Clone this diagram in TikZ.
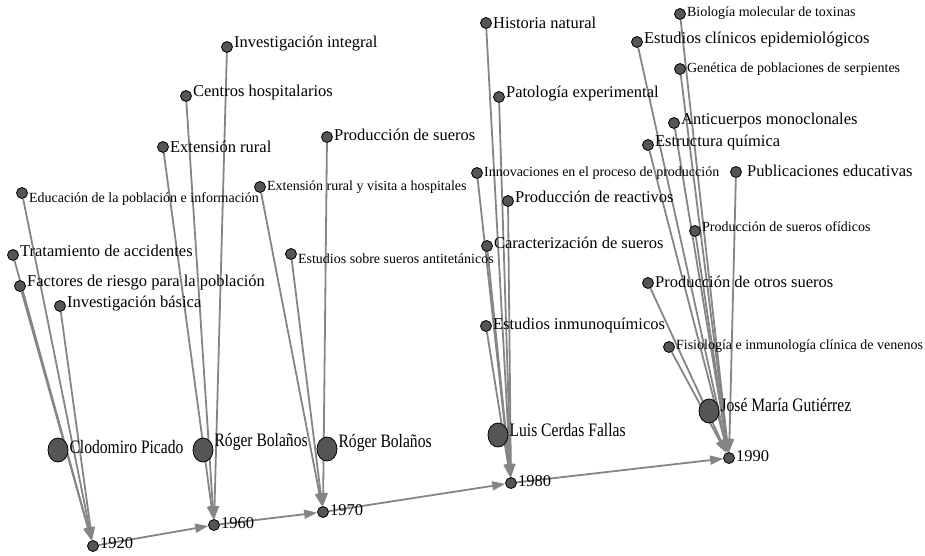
\documentclass[tikz,border=0pt]{standalone}
\usepackage{fontspec}
\setmainfont{Liberation Serif}
\newfontfamily\personfont{Liberation Serif}[FakeStretch=0.82]
\usepackage{tikz}
\usetikzlibrary{arrows.meta, shapes.geometric, backgrounds}
\definecolor{dotgray}{HTML}{555555}
\definecolor{linkgray}{HTML}{858585}
\tikzset{topic/.style={circle, draw=black, fill=dotgray, line width=0.8pt,
    minimum size=11pt, inner sep=0pt},
    person/.style={ellipse, draw=black, fill=dotgray, line width=0.8pt,
    minimum width=20pt, minimum height=24pt, inner sep=0pt},
    small/.style={font=\fontsize{14}{16}\selectfont, inner sep=1pt},
    mid/.style={font=\fontsize{16.5}{18}\selectfont, inner sep=1pt, yshift=2pt},
    big/.style={font=\personfont\fontsize{19}{21}\selectfont, inner sep=1pt, yshift=5pt},
    link/.style={draw=linkgray, line width=1.8pt, ->}}

\begin{document}
\begin{tikzpicture}[x=1pt, y=-1pt,
  >={Triangle[length=13pt, width=9pt]}
]
  \useasboundingbox (0,0) rectangle (925,555);

  % Years
  \node[topic, label={[mid,yshift=1pt]right:1920}] (y1920) at (93,546) {};
  \node[topic, label={[mid]right:1960}] (y1960) at (214,525) {};
  \node[topic, label={[mid]right:1970}] (y1970) at (323,512) {};
  \node[topic, label={[mid]right:1980}] (y1980) at (511,483) {};
  \node[topic, label={[mid]right:1990}] (y1990) at (729,458) {};

  % Persons
  \node[person, label={[big,yshift=-2pt]right:Clodomiro Picado}] (picado) at (58,450) {};
  \node[person, label={[big,yshift=3pt]right:Róger Bolaños}] (bolanos1) at (203,450) {};
  \node[person, label={[big,yshift=1pt]right:Róger Bolaños}] (bolanos2) at (327,449) {};
  \node[person, label={[big]right:Luis Cerdas Fallas}] (cerdas) at (498,435) {};
  \node[person, label={[big,yshift=1pt]right:José María Gutiérrez}] (gutierrez) at (709,411) {};

  % Topics 1920
  \node[topic, label={[small,yshift=-6pt]right:Educación de la población e información}] (edu) at (22,193) {};
  \node[topic, label={[mid,yshift=2pt]right:Tratamiento de accidentes}] (trat) at (13,255) {};
  \node[topic, label={[mid,yshift=1pt]right:Factores de riesgo para la población}] (fact) at (20,286) {};
  \node[topic, label={[mid]right:Investigación básica}] (invb) at (60,306) {};

  % Topics 1960
  \node[topic, label={[mid,yshift=1pt]right:Investigación integral}] (inti) at (227,47) {};
  \node[topic, label={[mid,yshift=1pt]right:Centros hospitalarios}] (cent) at (186,96) {};
  \node[topic, label={[mid,yshift=-2pt]right:Extensión rural}] (extr) at (163,147) {};

  % Topics 1970
  \node[topic, label={[mid]right:Producción de sueros}] (prod) at (327,137) {};
  \node[topic, label={[small]right:Extensión rural y visita a hospitales}] (extv) at (260,187) {};
  \node[topic, label={[small,yshift=-5pt]right:Estudios sobre sueros antitetánicos}] (anti) at (291,254) {};

  % Topics 1980
  \node[topic, label={[mid,yshift=-2pt]right:Historia natural}] (hist) at (486,23) {};
  \node[topic, label={[mid,yshift=1pt]right:Patología experimental}] (pato) at (499,97) {};
  \node[topic, label={[small]right:Innovaciones en el proceso de producción}] (inno) at (477,173) {};
  \node[topic, label={[mid,yshift=2pt]right:Producción de reactivos}] (reac) at (508,201) {};
  \node[topic, label={[mid,yshift=1pt]right:Caracterización de sueros}] (cara) at (487,246) {};
  \node[topic, label={[mid,yshift=-2pt]right:Estudios inmunoquímicos}] (inmu) at (486,326) {};

  % Topics 1990
  \node[topic, label={[small,yshift=1pt]right:Biología molecular de toxinas}] (biol) at (680,14) {};
  \node[topic, label={[mid]right:Estudios clínicos epidemiológicos}] (clin) at (637,42) {};
  \node[topic, label={[small]right:Genética de poblaciones de serpientes}] (gene) at (680,69) {};
  \node[topic, label={[mid]right:Anticuerpos monoclonales}] (antc) at (674,123) {};
  \node[topic, label={[mid]right:Estructura química}] (estq) at (648,145) {};
  \node[topic, label={[mid,xshift=4pt,yshift=-1pt]right:Publicaciones educativas}] (publ) at (736,172) {};
  \node[topic, label={[small,yshift=4pt]right:Producción de sueros ofídicos}] (ofid) at (695,231) {};
  \node[topic, label={[mid,yshift=-1pt]right:Producción de otros sueros}] (otro) at (648,283) {};
  \node[topic, label={[small,yshift=1pt]right:Fisiología e inmunología clínica de venenos}] (fisi) at (669,347) {};

  % Edges
  \begin{scope}[on background layer]
    \draw[link] (edu) -- (y1920);
    \draw[link] (trat) -- (y1920);
    \draw[link] (fact) -- (y1920);
    \draw[link] (invb) -- (y1920);

    \draw[link] (inti) -- (y1960);
    \draw[link] (cent) -- (y1960);
    \draw[link] (extr) -- (y1960);

    \draw[link] (prod) -- (y1970);
    \draw[link] (extv) -- (y1970);
    \draw[link] (anti) -- (y1970);

    \draw[link] (hist) -- (y1980);
    \draw[link] (pato) -- (y1980);
    \draw[link] (inno) -- (y1980);
    \draw[link] (reac) -- (y1980);
    \draw[link] (cara) -- (y1980);
    \draw[link] (inmu) -- (y1980);

    \draw[link] (biol) -- (y1990);
    \draw[link] (clin) -- (y1990);
    \draw[link] (gene) -- (y1990);
    \draw[link] (antc) -- (y1990);
    \draw[link] (estq) -- (y1990);
    \draw[link] (publ) -- (y1990);
    \draw[link] (ofid) -- (y1990);
    \draw[link] (otro) -- (y1990);
    \draw[link] (fisi) -- (y1990);

    % Timeline
    \draw[link] (y1920) -- (y1960);
    \draw[link] (y1960) -- (y1970);
    \draw[link] (y1970) -- (y1980);
    \draw[link] (y1980) -- (y1990);
  \end{scope}

\end{tikzpicture}
\end{document}
